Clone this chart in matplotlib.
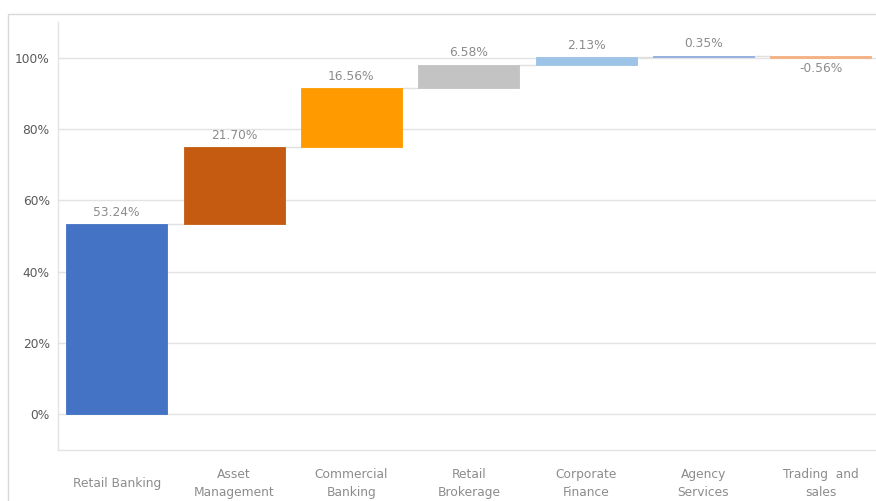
import matplotlib.pyplot as plt
from matplotlib.patches import Rectangle
import numpy as np

# waterfall data (percent contribution)
categories = ['Retail Banking', 'Asset\nManagement', 'Commercial\nBanking', 'Retail\nBrokerage',
              'Corporate\nFinance', 'Agency\nServices', 'Trading  and\nsales']
values = [53.24, 21.70, 16.56, 6.58, 2.13, 0.35, -0.56]
colors = ['#4472C4', '#C55A11', '#FF9A00', '#C3C3C3', '#9DC3E6', '#8FAADC', '#F4B183']

y_ticks = [0, 20, 40, 60, 80, 100]

ends = np.cumsum(values)
starts = ends - np.array(values)
x = np.arange(len(categories))
width = 0.86

fig = plt.figure(figsize=(8.76, 5.01), dpi=100)
ax = fig.add_axes([58 / 876, 51 / 501, 818 / 876, 428 / 501])

# outer chart border
fig.patches.append(Rectangle((8 / 876, -0.1), 1.2, (487 / 501) + 0.1, transform=fig.transFigure,
                             fill=False, edgecolor='#D9D9D9', linewidth=1.0))

ax.bar(x, values, bottom=starts, width=width, color=colors, edgecolor=colors, linewidth=0.6, zorder=3)

# connector lines
for i in range(len(x) - 1):
    ax.plot([x[i] + width / 2, x[i + 1] - width / 2], [ends[i], ends[i]],
            color='#E0E0E0', linewidth=1.0, zorder=2)

# value labels
for i, v in enumerate(values):
    if v >= 0:
        ax.text(x[i], ends[i] + 1.5, f'{v:.2f}%', ha='center', va='bottom',
                fontsize=8.8, color='#8C8C8C')
    else:
        ax.text(x[i], starts[i] - 1.8, f'{v:.2f}%', ha='center', va='top',
                fontsize=8.8, color='#8C8C8C')

ax.set_xlim(-0.5, 6.47)
ax.set_ylim(-10, 110)
ax.set_yticks(y_ticks)
ax.set_yticklabels([f'{t}%' for t in y_ticks])
ax.set_xticks(x)
ax.set_xticklabels(categories, linespacing=1.45, va='center')
ax.yaxis.grid(True, color='#E3E3E3', linewidth=1.0, zorder=0)
ax.set_axisbelow(True)

for s in ['top', 'right']:
    ax.spines[s].set_visible(False)
for s in ['left', 'bottom']:
    ax.spines[s].set_color('#E3E3E3')
    ax.spines[s].set_linewidth(1.0)

ax.tick_params(axis='y', length=0, pad=6, labelsize=8.8, labelcolor='#595959')
ax.tick_params(axis='x', length=0, pad=24, labelsize=8.8, labelcolor='#8C8C8C')

fig.savefig('out.png', dpi=100)
